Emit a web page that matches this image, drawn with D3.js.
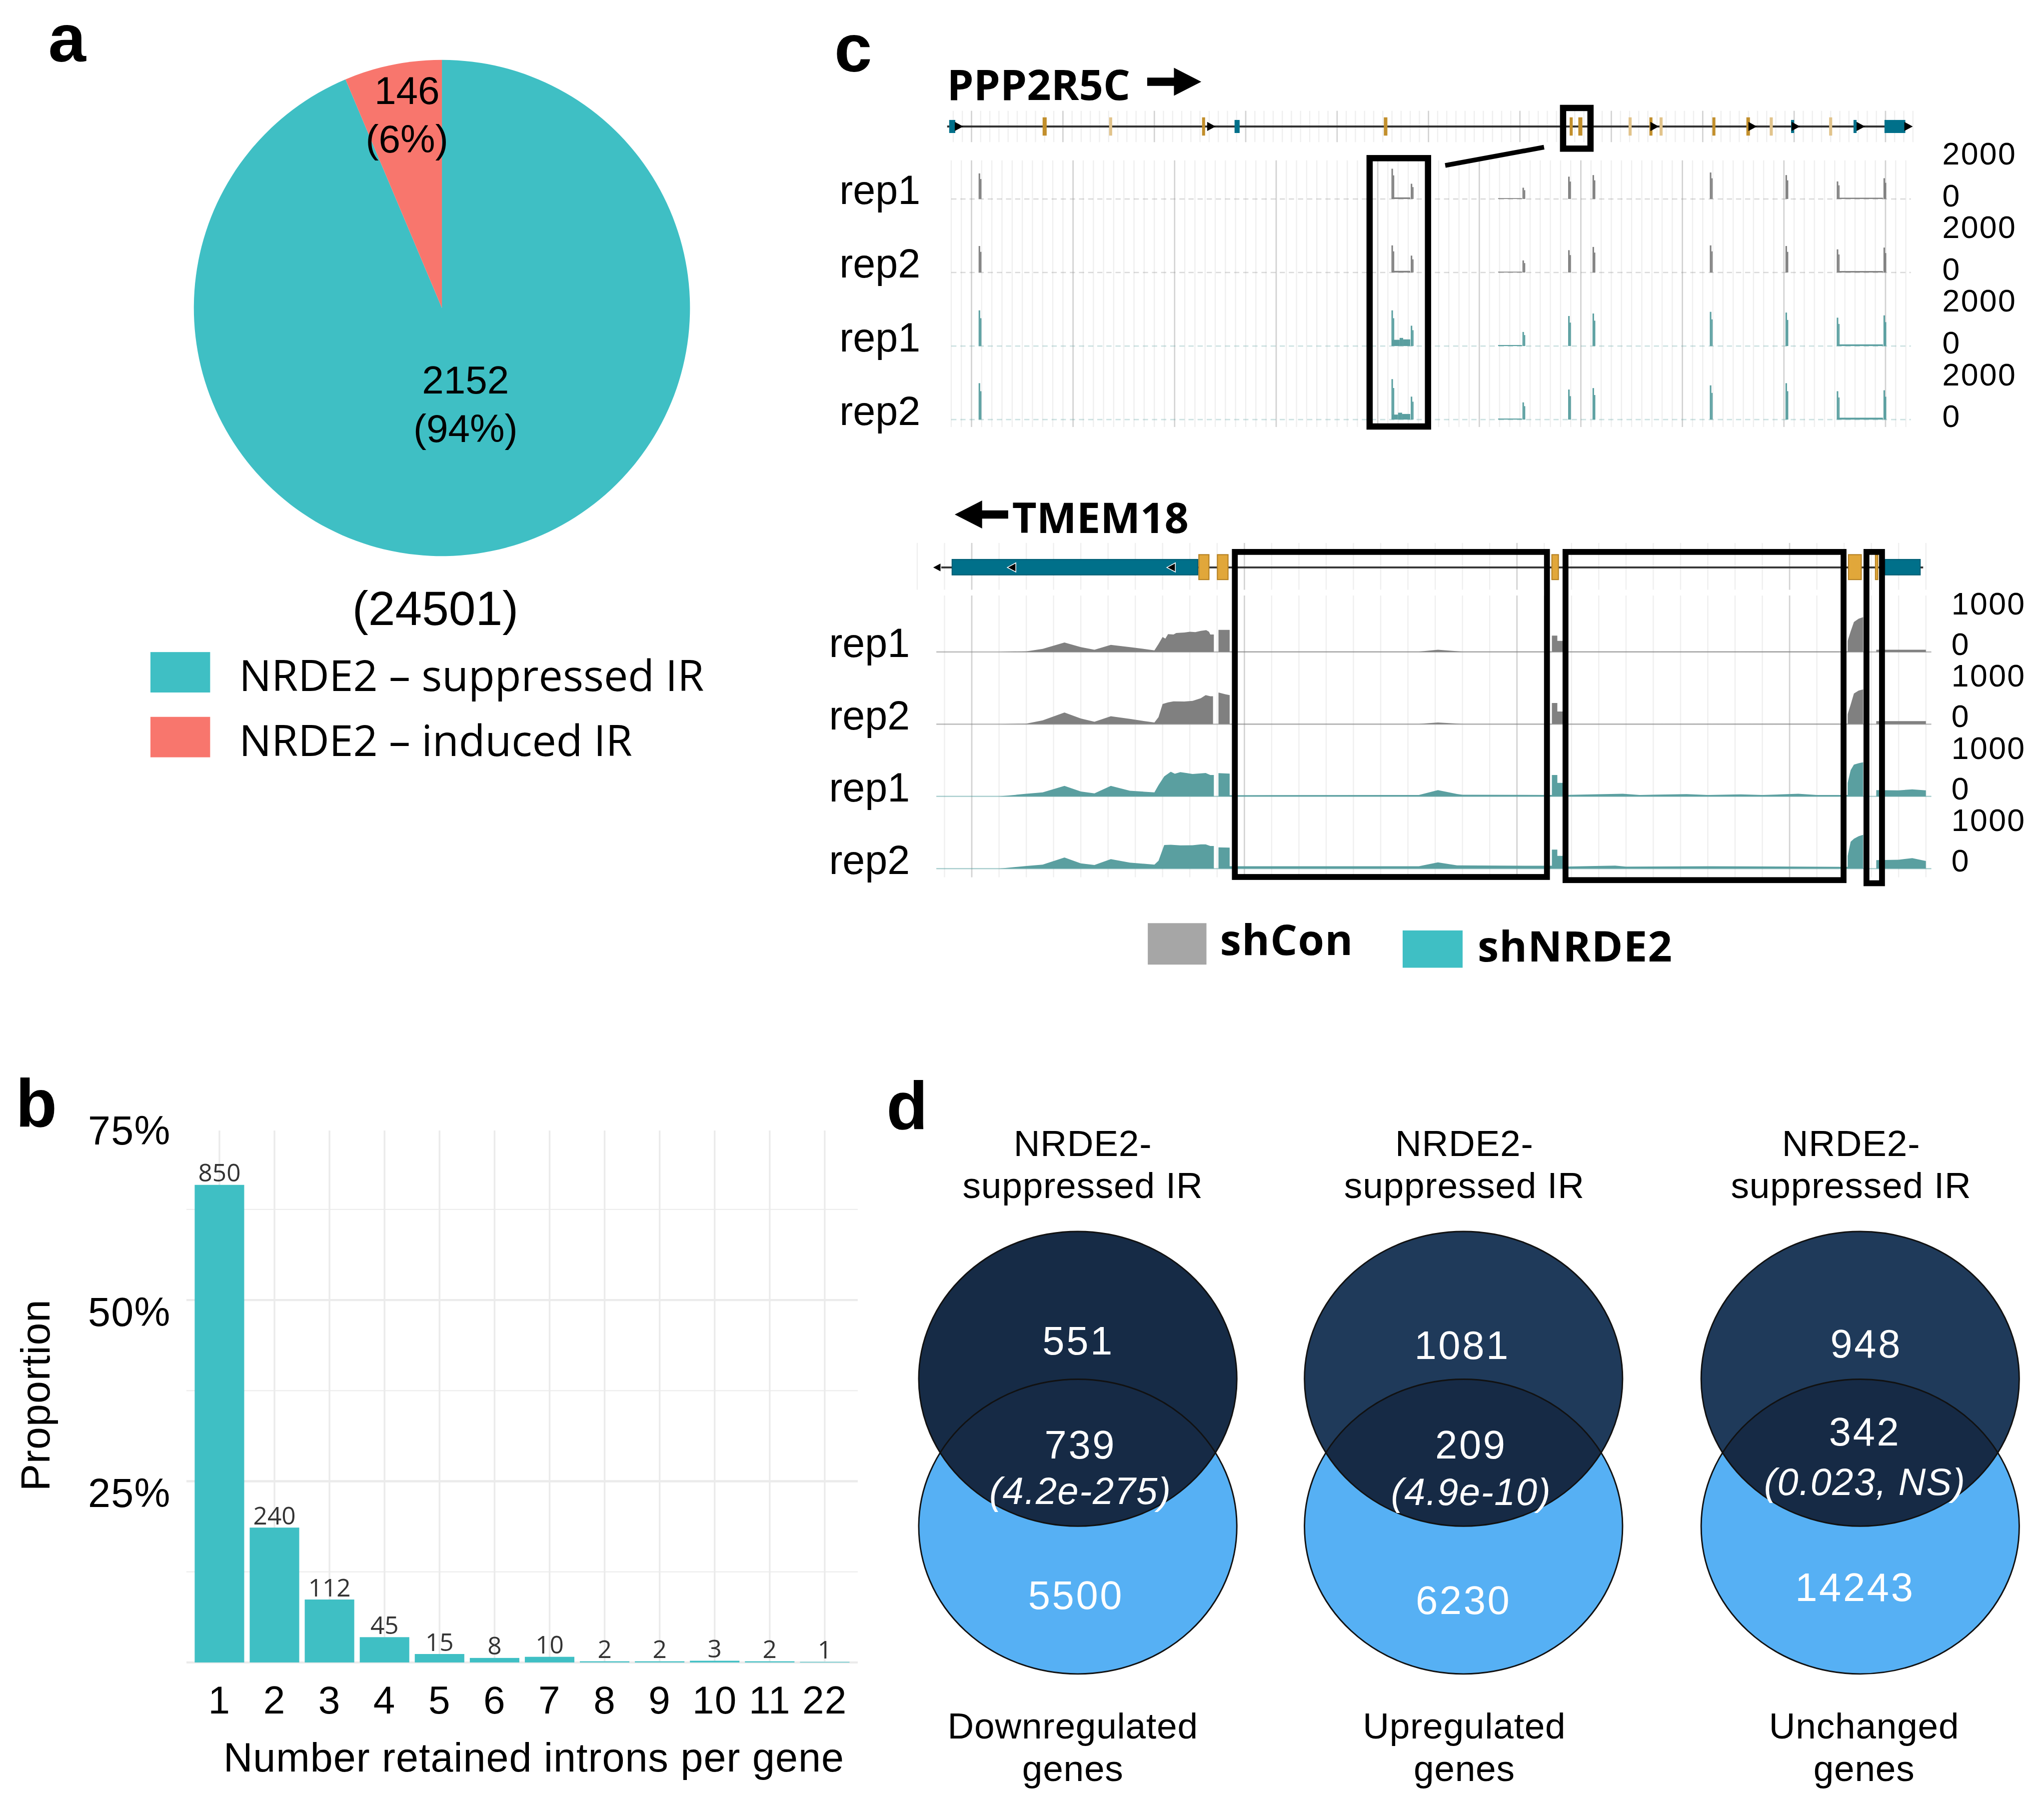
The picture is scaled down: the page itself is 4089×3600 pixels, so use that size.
<!DOCTYPE html>
<html>
<head>
<meta charset="utf-8">
<script src="https://cdn.jsdelivr.net/npm/d3@7"></script>
<style>
  body { margin: 0; background: #fff; }
  svg text { font-family: "Liberation Sans", Arial, sans-serif; }
</style>
</head>
<body>
<script>
// ----- a : NRDE2 regulated IR events -----
const pieNames = ["NRDE2 \u2013 suppressed IR", "NRDE2 \u2013 induced IR"];
const pieCounts = [2152, 146];
const piePct = ["(94%)", "(6%)"];
const pieTotal = "(24501)";

// ----- b : retained introns per gene -----
const intronCats = ["1","2","3","4","5","6","7","8","9","10","11","22"];
const intronGenes = [850, 240, 112, 45, 15, 8, 10, 2, 2, 3, 2, 1];
const propTicks = [0.25, 0.5, 0.75];

// ----- c : coverage tracks -----
const trackNames = ["rep1", "rep2", "rep1", "rep2"];
const legendNames = ["shCon", "shNRDE2"];
// PPP2R5C, positions in kb
const pppExons = [[15.6,16.8,"utr"],[34.0,34.8,"cds"],[47.1,47.7,"cdsl"],[65.4,66.0,"cds"],[71.8,72.8,"utr"],
  [101.2,101.9,"cds"],[137.8,138.4,"cds"],[139.5,140.3,"cds"],[149.4,150.0,"cdsl"],[153.5,154.1,"cds"],
  [155.5,156.1,"cdsl"],[165.9,166.5,"cds"],[172.6,173.3,"cds"],[177.2,177.8,"cdsl"],[181.4,182.0,"utr"],
  [188.9,189.5,"cdsl"],[193.7,194.3,"utr"],[199.8,203.9,"utr"]];
const pppArrows = [17.6, 67.3, 154.6, 173.9, 182.4, 195.2, 204.6];
const pppSpikeAt = [21.4, 102.7, 106.5, 128.5, 137.5, 142.3, 165.4, 180.3, 190.4, 199.6];
const pppConRep1 = [1225, 1450, 730, 540, 1070, 1145, 1270, 1145, 840, 995];
const pppConRep2 = [1270, 1300, 810, 580, 1070, 1225, 1300, 1270, 1110, 1195];
const pppKdRep1 = [1710, 1710, 975, 675, 1440, 1560, 1640, 1605, 1360, 1470];
const pppKdRep2 = [1745, 1940, 1100, 825, 1440, 1510, 1640, 1745, 1360, 1405];
const pppConRep1Low = [[102.9,106.4,75],[123.7,128.4,40],[190.6,199.5,60]];
const pppConRep2Low = [[102.9,106.4,80],[123.7,128.4,40],[190.6,199.5,70]];
const pppKdRep1Low = [[102.9,104.3,300],[104.3,105.0,390],[105.0,106.4,320],[123.7,128.4,50],[190.6,199.5,80]];
const pppKdRep2Low = [[102.9,104.0,240],[104.0,104.8,330],[104.8,106.4,270],[123.7,128.4,50],[190.6,199.5,90]];
const pppBox = [98.4, 109.9];
const pppZoomExon = [136.5, 141.9];

// TMEM18, positions in kb
const tmemExons = [[0.928,1.829,"utr"],[1.833,1.870,"cds"],[1.901,1.940,"cds"],[3.128,3.152,"cds"],
  [4.216,4.263,"cds"],[4.315,4.322,"cds"],[4.350,4.479,"utr"]];
const tmemArrows = [0.87, 1.145, 1.73];
const tmemBoxes = [[1.965,3.110],[3.178,4.198],[4.282,4.339]];
const tmemConRep1 = [[1.10,0],[1.20,15],[1.26,75],[1.34,235],[1.40,120],[1.45,55],[1.51,175],[1.58,120],[1.67,40],
  [1.685,195],[1.70,370],[1.71,330],[1.72,440],[1.74,430],[1.75,470],[1.78,480],[1.80,500],[1.82,490],[1.84,520],
  [1.86,540],[1.87,500],[1.875,430],[1.888,430],[1.888,0],[1.905,0],[1.905,545],[1.946,545],[1.946,8],[2.64,8],
  [2.71,55],[2.80,8],[3.128,8],[3.128,405],[3.148,405],[3.148,275],[3.168,275],[3.168,8],[4.213,10],[4.213,275],
  [4.224,510],[4.236,740],[4.253,820],[4.27,860],[4.27,0],[4.318,0],[4.318,55],[4.50,55],[4.50,0]];
const tmemConRep2 = [[1.10,0],[1.20,15],[1.26,95],[1.34,290],[1.40,140],[1.45,60],[1.51,195],[1.58,130],[1.67,40],
  [1.685,175],[1.70,500],[1.72,540],[1.74,565],[1.78,560],[1.81,575],[1.84,640],[1.858,720],[1.875,690],[1.885,690],
  [1.885,0],[1.905,0],[1.905,785],[1.93,740],[1.946,720],[1.946,8],[2.64,8],[2.71,40],[2.80,8],[3.128,8],[3.128,525],
  [3.148,525],[3.148,315],[3.168,315],[3.168,8],[4.213,10],[4.213,250],[4.224,485],[4.236,760],[4.253,830],[4.27,860],
  [4.27,0],[4.318,0],[4.318,75],[4.50,75],[4.50,0]];
const tmemKdRep1 = [[1.10,0],[1.20,65],[1.26,100],[1.34,260],[1.40,120],[1.45,75],[1.51,260],[1.58,140],[1.67,100],
  [1.685,280],[1.706,495],[1.73,610],[1.745,560],[1.765,600],[1.79,575],[1.81,555],[1.84,570],[1.858,580],[1.875,530],
  [1.888,530],[1.888,0],[1.905,0],[1.905,575],[1.946,565],[1.946,30],[2.64,35],[2.71,155],[2.78,60],[2.80,40],[3.128,35],
  [3.128,530],[3.148,530],[3.148,335],[3.168,335],[3.168,35],[3.388,65],[3.45,35],[3.622,55],[3.70,35],[3.821,50],
  [3.90,35],[4.032,65],[4.10,35],[4.213,35],[4.213,335],[4.224,650],[4.236,785],[4.253,820],[4.27,845],[4.27,0],
  [4.318,0],[4.318,155],[4.40,150],[4.45,175],[4.50,150],[4.50,0]];
const tmemKdRep2 = [[1.10,0],[1.20,65],[1.26,100],[1.34,275],[1.40,130],[1.45,90],[1.51,235],[1.58,150],[1.67,100],
  [1.685,195],[1.706,585],[1.73,590],[1.765,575],[1.81,580],[1.84,600],[1.858,600],[1.875,560],[1.888,560],[1.888,0],
  [1.905,0],[1.905,525],[1.946,520],[1.946,60],[2.64,60],[2.71,155],[2.78,80],[3.128,70],[3.128,470],[3.148,470],
  [3.148,315],[3.168,315],[3.168,50],[3.36,75],[3.40,50],[3.70,60],[3.85,55],[4.213,45],[4.213,315],[4.224,665],
  [4.236,740],[4.253,800],[4.27,840],[4.27,0],[4.318,0],[4.318,210],[4.40,220],[4.45,260],[4.50,190],[4.50,0]];

// ----- d : venn diagrams -----
const vennGroups = ["Downregulated", "Upregulated", "Unchanged"];
const vennIROnly = [551, 1081, 948];
const vennBoth = [739, 209, 342];
const vennGenesOnly = [5500, 6230, 14243];
const vennP = ["(4.2e-275)", "(4.9e-10)", "(0.023, NS)"];

const teal = "#3FBFC4", salmon = "#F8766D";
const covCol = ["#808080", "#808080", "#5A9FA0", "#5A9FA0"];

const svg = d3.select("body").append("svg")
  .attr("width", 4089).attr("height", 3600)
  .attr("viewBox", "0 0 1568 1380.5");

// panel letters
const tags = [["a",37,47],["b",12,864],["c",640,55],["d",680,866]];
svg.selectAll("text.tag").data(tags).enter().append("text")
  .attr("class","tag").attr("x",d=>d[1]).attr("y",d=>d[2])
  .attr("font-size",52).attr("font-weight","bold").text(d=>d[0]);

// ================= a =================
const R = 190.3;
const ga = svg.append("g").attr("transform","translate(339,236.2)");
const pieData = d3.pie().sort(null).value(d=>d)(pieCounts);
const arc = d3.arc().innerRadius(0).outerRadius(R);
ga.selectAll("path").data(pieData).enter().append("path")
  .attr("d", arc).attr("fill",(d,i)=> i==0 ? teal : salmon);

const lab = ga.selectAll("g.lab").data(pieData).enter().append("g")
  .attr("transform", d => {
    const a = (d.startAngle + d.endAngle)/2;
    const r = d.index == 0 ? 0.4*R : 0.79*R;
    return "translate(" + (r*Math.sin(a) + 3) + "," + (-r*Math.cos(a)) + ")";
  });
lab.append("text").attr("y",-9).attr("text-anchor","middle").attr("font-size",30).text(d=>d.value);
lab.append("text").attr("y",28).attr("text-anchor","middle").attr("font-size",30).text((d,i)=>piePct[i]);

svg.append("text").attr("x",334).attr("y",479.5).attr("text-anchor","middle")
  .attr("font-size",37).text(pieTotal);

const la = svg.selectAll("g.lega").data(pieNames).enter().append("g")
  .attr("transform",(d,i)=>"translate(115.4," + (500.1 + i*49.7) + ")");
la.append("rect").attr("width",45.8).attr("height",31).attr("fill",(d,i)=> i==0 ? teal : salmon);
la.append("text").attr("x",68).attr("y",30).attr("font-size",33)
  .style("font-family","'Open Sans', sans-serif").text(d=>d);

// ================= b =================
const gb = svg.append("g");
const xB = d3.scaleBand().domain(intronCats).range([143, 658]).paddingInner(0.1).paddingOuter(0.15);
const yB = d3.scaleLinear().domain([0, 0.734]).range([1275, 867]);
const nGenes = d3.sum(intronGenes);

gb.selectAll("line.minor").data([0.125, 0.375, 0.625]).enter().append("line")
  .attr("class","minor").attr("x1",143).attr("x2",658)
  .attr("y1",d=>yB(d)).attr("y2",d=>yB(d)).attr("stroke","#EDEDED").attr("stroke-width",0.9);
gb.selectAll("line.major").data([0, 0.25, 0.5]).enter().append("line")
  .attr("class","major").attr("x1",143).attr("x2",658)
  .attr("y1",d=>yB(d)).attr("y2",d=>yB(d)).attr("stroke","#EBEBEB").attr("stroke-width",1.7);
gb.selectAll("line.vert").data(intronCats).enter().append("line")
  .attr("class","vert").attr("x1",d=>xB(d)+xB.bandwidth()/2).attr("x2",d=>xB(d)+xB.bandwidth()/2)
  .attr("y1",yB.range()[1]).attr("y2",yB.range()[0]).attr("stroke","#EBEBEB").attr("stroke-width",1.3);

gb.selectAll("rect").data(intronGenes).enter().append("rect")
  .attr("x",(d,i)=>xB(intronCats[i])).attr("width",xB.bandwidth())
  .attr("y",d=>yB(d/nGenes)).attr("height",d=>yB(0)-yB(d/nGenes))
  .attr("fill",teal);
gb.selectAll("text.cnt").data(intronGenes).enter().append("text")
  .attr("class","cnt").attr("x",(d,i)=>xB(intronCats[i])+xB.bandwidth()/2)
  .attr("y",d=>yB(d/nGenes)-2.5).attr("text-anchor","middle")
  .attr("font-size",19).attr("fill","#333").style("font-family","'Open Sans', sans-serif")
  .text(d=>d);

gb.append("g").attr("transform","translate(0,1275)")
  .call(d3.axisBottom(xB).tickSize(0).tickPadding(18))
  .call(g=>g.select(".domain").remove())
  .selectAll("text").attr("font-size",30).attr("fill","#000").attr("letter-spacing",0.5)
  .style("font-family","'Liberation Sans', Arial, sans-serif");
gb.append("g").attr("transform","translate(143,0)")
  .call(d3.axisLeft(yB).tickValues(propTicks).tickFormat(d3.format(".0%")).tickSize(0).tickPadding(12))
  .call(g=>g.select(".domain").remove())
  .selectAll("text").attr("font-size",31).attr("fill","#000").attr("dy","0.62em").attr("letter-spacing",0.5)
  .style("font-family","'Liberation Sans', Arial, sans-serif");

gb.append("text").attr("x",409.5).attr("y",1358.8).attr("text-anchor","middle")
  .attr("font-size",31).attr("letter-spacing",0.4).text("Number retained introns per gene");
gb.append("text").attr("transform","translate(38,1070) rotate(-90)").attr("text-anchor","middle")
  .attr("font-size",31).attr("letter-spacing",0.4).text("Proportion");

// ================= c =================
const gc = svg.append("g");
const boldFont = "'Open Sans', sans-serif";

function geneTitle(x, y, name, dir) {
  const t = gc.append("text").attr("x",x).attr("y",y).attr("font-size",32.5)
    .attr("font-weight",700).style("font-family",boldFont).text(name);
  const bb = t.node().getBBox();
  const cy = y - 14;
  let x0, x1;
  if (dir > 0) { x0 = bb.x + bb.width + 13; x1 = x0 + 41.5; }
  else { x1 = x - 3; x0 = x1 - 41; }
  const head = 21, hh = 10.7, sh = 3.2;
  let p;
  if (dir > 0) p = [[x0,cy-sh],[x1-head,cy-sh],[x1-head,cy-hh],[x1,cy],[x1-head,cy+hh],[x1-head,cy+sh],[x0,cy+sh]];
  else p = [[x1,cy-sh],[x0+head,cy-sh],[x0+head,cy-hh],[x0,cy],[x0+head,cy+hh],[x0+head,cy+sh],[x1,cy+sh]];
  gc.append("path").attr("d","M" + p.join("L") + "Z").attr("fill","#000");
}

function gridLines(g, xs, majors, minors, y0, y1) {
  g.selectAll(null).data(minors).enter().append("line")
    .attr("x1",d=>xs(d)).attr("x2",d=>xs(d)).attr("y1",y0).attr("y2",y1)
    .attr("stroke","#EFEFEF").attr("stroke-width",0.9);
  g.selectAll(null).data(majors).enter().append("line")
    .attr("x1",d=>xs(d)).attr("x2",d=>xs(d)).attr("y1",y0).attr("y2",y1)
    .attr("stroke","#D2D2D2").attr("stroke-width",1);
}

function arrowHeads(g, xs, list, y, dir, white) {
  g.selectAll(null).data(list).enter().append("path")
    .attr("d", dir > 0 ? "M-3.5,-3.5L3,0L-3.5,3.5Z" : "M3.5,-3.5L-3,0L3.5,3.5Z")
    .attr("transform", d => "translate(" + xs(d) + "," + y + ")")
    .attr("fill","#000").attr("stroke", white ? "#fff" : "none").attr("stroke-width",0.6);
}

// ---- PPP2R5C ----
const xP = d3.scaleLinear().domain([15, 205]).range([725.8, 1465.9]);
const pppBase = 152.6, pppStep = 56.4;
const hP = d3.scaleLinear().domain([0, 2000]).range([0, 32]);

geneTitle(726.5, 76.7, "PPP2R5C", 1);
const gp = gc.append("g");
gridLines(gp, xP, d3.range(20, 205, 18), d3.range(16.4, 206, 1.8), 85, 109);
gridLines(gp, xP, d3.range(20, 205, 20), d3.range(16, 206, 2), 123, 327.5);
gp.append("line").attr("x1",xP(15.2)).attr("x2",xP(204.6)).attr("y1",97).attr("y2",97)
  .attr("stroke","#333").attr("stroke-width",1.5);
gp.selectAll("rect.ex").data(pppExons).enter().append("rect").attr("class","ex")
  .attr("x",d=>xP(d[0])).attr("width",d=>Math.max(1.8, xP(d[1])-xP(d[0])))
  .attr("y",d=> d[2]=="utr" ? 92 : 90).attr("height",d=> d[2]=="utr" ? 10 : 14)
  .attr("fill",d=> d[2]=="utr" ? "#00708A" : d[2]=="cds" ? "#C28F2C" : "#E2C48C");
arrowHeads(gp, xP, pppArrows, 97, 1, false);

const pppTracks = [[pppConRep1, pppConRep1Low],[pppConRep2, pppConRep2Low],[pppKdRep1, pppKdRep1Low],[pppKdRep2, pppKdRep2Low]];
pppTracks.forEach((tr, i) => {
  const base = pppBase + i*pppStep;
  const g = gp.append("g");
  g.append("line").attr("x1",xP(16)).attr("x2",xP(205)).attr("y1",base).attr("y2",base)
    .attr("stroke",covCol[i]).attr("stroke-opacity",0.3).attr("stroke-dasharray","4,3");
  const bins = [];
  tr[0].forEach((v, j) => {
    bins.push([pppSpikeAt[j], pppSpikeAt[j]+0.3, v]);
    bins.push([pppSpikeAt[j]+0.3, pppSpikeAt[j]+0.55, v*0.78]);
  });
  tr[1].forEach(s => bins.push(s));
  g.selectAll("rect").data(bins).enter().append("rect")
    .attr("x",d=>xP(d[0])).attr("width",d=>xP(d[1])-xP(d[0]))
    .attr("y",d=>base-hP(d[2])).attr("height",d=>hP(d[2]))
    .attr("fill",covCol[i]);
  g.append("text").attr("x",706).attr("y",base+4).attr("text-anchor","end")
    .attr("font-size",31).text(trackNames[i]);
  const ax = d3.scaleLinear().domain([0,2000]).range([base, base-32]);
  g.append("g").attr("transform","translate(1490,-2.5)")
    .call(d3.axisRight(ax).tickValues([0,2000]).tickSize(0).tickPadding(0).tickFormat(d3.format("d")))
    .call(a=>a.select(".domain").remove())
    .selectAll("text").attr("font-size",24).attr("fill","#000").attr("letter-spacing",0.9)
    .style("font-family","'Liberation Sans', Arial, sans-serif");
});
// highlight boxes
gp.append("rect").attr("x",xP(pppBox[0])).attr("width",xP(pppBox[1])-xP(pppBox[0]))
  .attr("y",121.3).attr("height",205.8).attr("fill","none").attr("stroke","#000").attr("stroke-width",4.8);
gp.append("rect").attr("x",xP(pppZoomExon[0])).attr("width",xP(pppZoomExon[1])-xP(pppZoomExon[0]))
  .attr("y",82.8).attr("height",31.2).attr("fill","none").attr("stroke","#000").attr("stroke-width",4.8);
gp.append("line").attr("x1",xP(pppBox[1])+13.2).attr("y1",126.9)
  .attr("x2",xP(pppZoomExon[0])-14.6).attr("y2",112.9).attr("stroke","#000").attr("stroke-width",3.6);

// ---- TMEM18 ----
const xT = d3.scaleLinear().domain([0.85, 4.5]).range([714.1, 1477.4]);
const tmBase = 500, tmStep = 55.4;
const hT = d3.scaleLinear().domain([0, 1000]).range([0, 31]);

geneTitle(776.4, 408.6, "TMEM18", -1);
const gt = gc.append("g");
gridLines(gt, xT, [1,2,3,4], d3.range(0.8, 4.55, 0.1), 416.4, 452.3);
gridLines(gt, xT, [1,2,3,4], d3.range(0.9, 4.55, 0.1), 456.7, 672.8);
gt.append("line").attr("x1",xT(0.864)).attr("x2",xT(4.49)).attr("y1",435.2).attr("y2",435.2)
  .attr("stroke","#333").attr("stroke-width",1.5);
gt.selectAll("rect.ex").data(tmemExons).enter().append("rect").attr("class","ex")
  .attr("x",d=>xT(d[0])).attr("width",d=>Math.max(1.8, xT(d[1])-xT(d[0])))
  .attr("y",d=> d[2]=="utr" ? 429.1 : 425.4).attr("height",d=> d[2]=="utr" ? 11.8 : 19.1)
  .attr("fill",d=> d[2]=="utr" ? "#00708A" : "#E1A73A")
  .attr("stroke",d=> d[2]=="utr" ? "#005E74" : "#B58021").attr("stroke-width",0.8);
arrowHeads(gt, xT, tmemArrows, 435.2, -1, true);

const tmTracks = [tmemConRep1, tmemConRep2, tmemKdRep1, tmemKdRep2];
tmTracks.forEach((tr, i) => {
  const base = tmBase + i*tmStep;
  const g = gt.append("g");
  g.append("line").attr("x1",xT(0.87)).attr("x2",xT(4.52)).attr("y1",base).attr("y2",base)
    .attr("stroke",covCol[i]).attr("stroke-opacity",0.5).attr("stroke-width",1);
  const area = d3.area().x(d=>xT(d[0])).y0(base).y1(d=>base-hT(d[1]));
  g.append("path").datum(tr).attr("d",area).attr("fill",covCol[i]);
  g.append("text").attr("x",698).attr("y",base+4).attr("text-anchor","end")
    .attr("font-size",31).text(trackNames[i]);
  const ax = d3.scaleLinear().domain([0,1000]).range([base, base-31]);
  g.append("g").attr("transform","translate(1497,-6)")
    .call(d3.axisRight(ax).tickValues([0,1000]).tickSize(0).tickPadding(0).tickFormat(d3.format("d")))
    .call(a=>a.select(".domain").remove())
    .selectAll("text").attr("font-size",24).attr("fill","#000").attr("letter-spacing",0.9)
    .style("font-family","'Liberation Sans', Arial, sans-serif");
});
const boxBottoms = [672.6, 675, 677.4];
gt.selectAll("rect.hb").data(tmemBoxes).enter().append("rect").attr("class","hb")
  .attr("x",d=>xT(d[0])).attr("width",d=>xT(d[1])-xT(d[0]))
  .attr("y",423.3).attr("height",(d,i)=>boxBottoms[i]-423.3)
  .attr("fill","none").attr("stroke","#000").attr("stroke-width",4.5);

// legend c
const legC = [[880.5,708,45,31.8,"#A6A6A6",936,732.4],[1076,713.6,46,28.6,teal,1133.5,737.3]];
legC.forEach((l,i) => {
  gc.append("rect").attr("x",l[0]).attr("y",l[1]).attr("width",l[2]).attr("height",l[3]).attr("fill",l[4]);
  gc.append("text").attr("x",l[5]).attr("y",l[6]).attr("font-size",32.5).attr("font-weight",700)
    .attr("letter-spacing",0.5).style("font-family",boldFont).text(legendNames[i]);
});

// ================= d =================
const gd = svg.append("g");
const vennX = [826.8, 1122.7, 1427];
const topCY = 1057.5, botCY = 1170.8, rx = 122, ry = 113;
const topFill = ["#162B46", "#1F3A5A", "#1F3A5A"];
const titleDx = [3.8, 0.6, -7], bottomDx = [-3.8, 0.6, 3];
const onlyDx = [0.4, -1, 4.6], onlyY = [1038.8, 1042.2, 1041.2];
const midDx = [2, 5.8, 3.6], midY = [1118.5, 1118.5, 1108.7], pY = [1153.5, 1154.2, 1146.6];
const genDx = [-1.4, 0, -4], genY = [1233.9, 1238, 1227.8];

vennGroups.forEach((name, i) => {
  const cx = vennX[i];
  const g = gd.append("g");
  const cid = "clipBot" + i;
  g.append("clipPath").attr("id",cid).append("ellipse")
    .attr("cx",cx).attr("cy",botCY).attr("rx",rx).attr("ry",ry);
  g.append("ellipse").attr("cx",cx).attr("cy",botCY).attr("rx",rx).attr("ry",ry).attr("fill","#56B0F4");
  g.append("ellipse").attr("cx",cx).attr("cy",topCY).attr("rx",rx).attr("ry",ry).attr("fill",topFill[i]);
  g.append("ellipse").attr("cx",cx).attr("cy",topCY).attr("rx",rx).attr("ry",ry)
    .attr("clip-path","url(#" + cid + ")").attr("fill","#162A45");
  [botCY, topCY].forEach(cy => g.append("ellipse").attr("cx",cx).attr("cy",cy).attr("rx",rx).attr("ry",ry)
    .attr("fill","none").attr("stroke","#111").attr("stroke-width",1.1));

  const blk = (y, t, dx) => g.append("text").attr("x",cx+dx).attr("y",y).attr("text-anchor","middle")
    .attr("font-size",28).attr("letter-spacing",0.3).text(t);
  blk(886.4, "NRDE2-", titleDx[i]);
  blk(918.9, "suppressed IR", titleDx[i]);
  blk(1333.2, name, bottomDx[i]);
  blk(1365.8, "genes", bottomDx[i]);

  const w = (x, y, t, it) => g.append("text").attr("x",x).attr("y",y).attr("text-anchor","middle")
    .attr("font-size", it ? 29 : 30.5).attr("font-style", it ? "italic" : "normal")
    .attr("letter-spacing", it ? 0.6 : 1.4).attr("fill","#fff").text(t);
  w(cx+onlyDx[i], onlyY[i], vennIROnly[i]);
  w(cx+midDx[i], midY[i], vennBoth[i]);
  w(cx+midDx[i], pY[i], vennP[i], true);
  w(cx+genDx[i], genY[i], vennGenesOnly[i]);
});
</script>
</body>
</html>
